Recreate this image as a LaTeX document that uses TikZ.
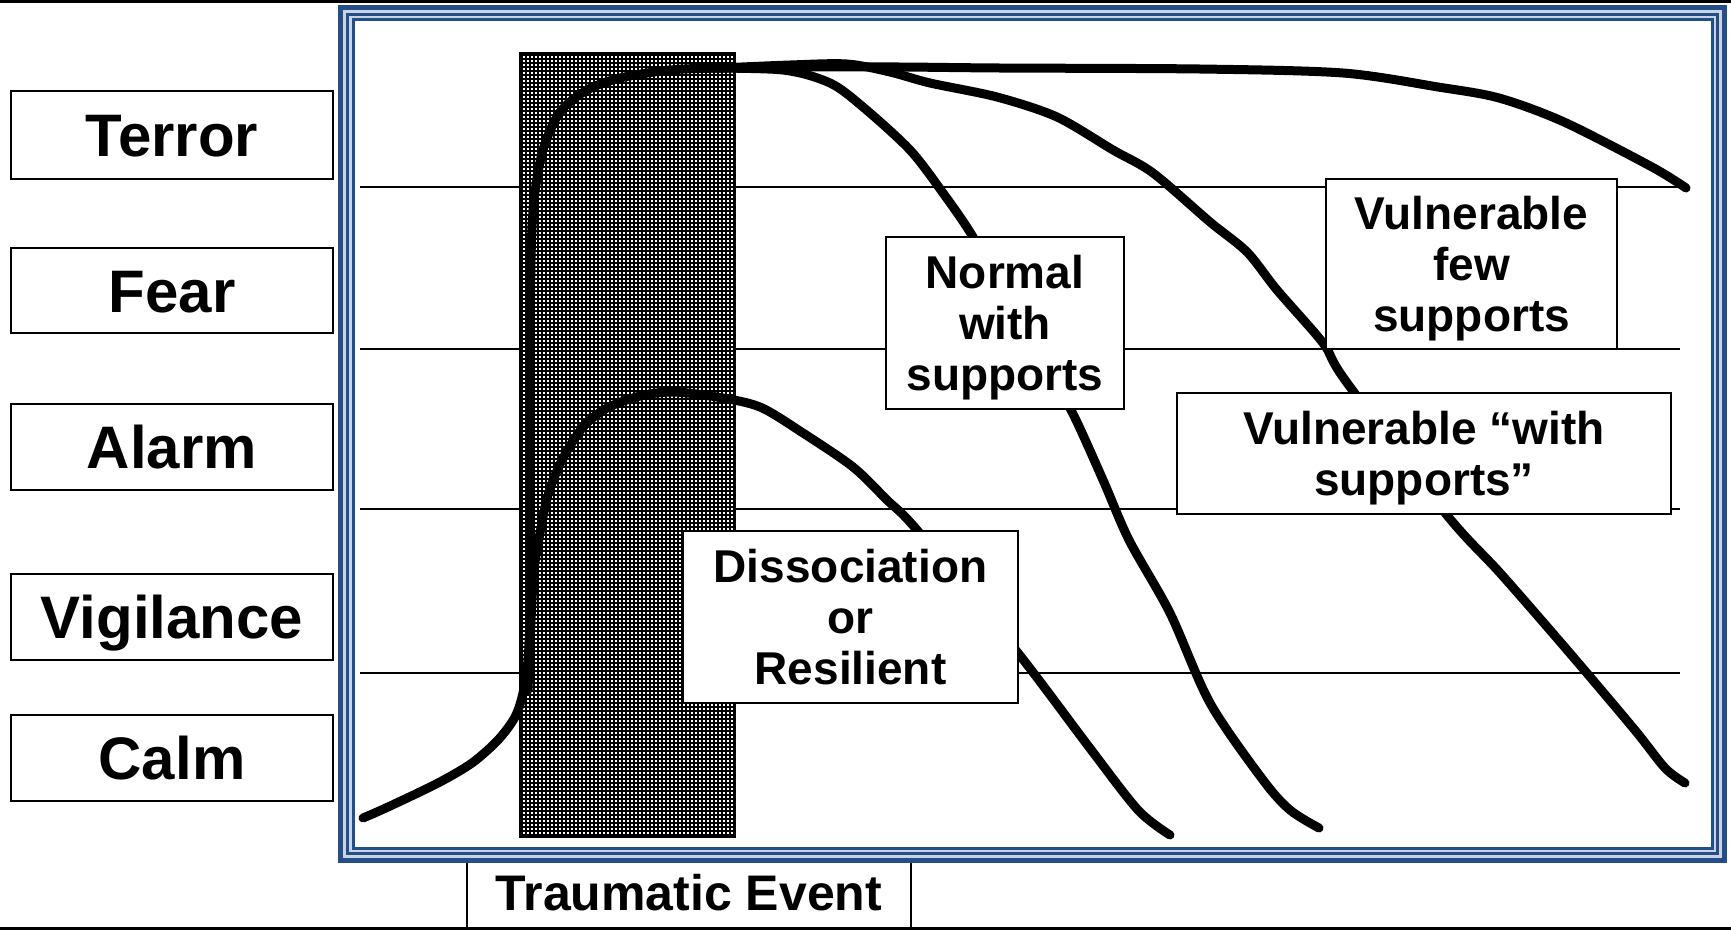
\documentclass[tikz,border=0pt]{standalone}
\usepackage{fontspec}
\setmainfont{Liberation Sans}
\definecolor{frameblue}{RGB}{37,77,135}
\definecolor{framegap}{RGB}{200,212,228}
\newcommand{\lowerstrut}{\rule{0pt}{43pt}}
\begin{document}
\begin{tikzpicture}[x=1pt,y=-1pt,
  curve/.style={line width=9pt, line cap=round, line join=round},
  gridline/.style={line width=2pt},
  hatchline/.style={line width=1.1pt},
  lvl/.style={draw, line width=2pt, fill=white, minimum width=322pt, minimum height=86pt, inner sep=0pt,
              text height=43pt, text depth=0pt, font=\fontsize{60}{66}\selectfont\bfseries},
  lbl/.style={draw, line width=2pt, fill=white, inner sep=0pt, align=center, font=\fontsize{46}{51}\selectfont\bfseries},
  framestroke/.style={draw=frameblue},
]
\useasboundingbox (0,0) rectangle (1731,930);
\fill[white] (0,0) rectangle (1731,930);

% level grid lines
\foreach \y in {187,349,509,673} \draw[gridline] (360,\y) -- (1680,\y);

% traumatic event hatched band
\fill[white] (520,53) rectangle (735,837);
\begin{scope}
  \clip (520,53) rectangle (735,837);
  \foreach \x in {522,526,...,734} \draw[hatchline] (\x,53) -- (\x,837);
  \foreach \y in {55,59,...,836} \draw[hatchline] (520,\y) -- (735,\y);
\end{scope}
\draw[line width=2pt] (520,53) rectangle (735,837);

% rising curve + vulnerable few supports
\draw[curve] plot[smooth, tension=0.5] coordinates {
  (363,818) (388,807) (438,783) (472,763) (498,740) (515,717) (523,693)
  (528,660) (530,600) (530,400) (531,260) (534,200) (543,150) (560,112)
  (587,90) (620,78) (670,70) (720,68) (800,67) (900,67) (1000,68)
  (1200,69) (1343,73) (1438,87) (1499,98) (1564,122) (1652,167) (1686,188)};

% vulnerable with supports
\draw[curve] plot[smooth, tension=0.5] coordinates {
  (720,68) (790,65) (847,64) (890,72) (930,83) (997,97) (1057,117)
  (1113,150) (1153,173) (1210,222) (1247,252) (1277,290) (1323,343)
  (1345,380) (1446,514) (1501,574) (1568,651) (1634,729) (1665,768) (1685,783)};

% normal with supports
\draw[curve] plot[smooth, tension=0.5] coordinates {
  (700,68) (783,70) (830,83) (863,107) (910,150) (943,193) (973,237)
  (1000,290) (1040,360) (1071,410) (1103,480) (1129,540) (1170,613)
  (1210,703) (1263,780) (1290,810) (1319,828)};

% dissociation or resilient
\draw[curve] plot[smooth, tension=0.5] coordinates {
  (528,690) (531,620) (534,570) (540,533) (548,495) (562,460) (583,427)
  (607,408) (640,396) (673,392) (717,397) (760,407) (803,433) (853,467)
  (887,500) (917,530) (1018,653) (1089,747) (1138,810) (1170,835)};

% curve labels
\node[lbl, minimum width=238pt, minimum height=172pt] (normal) at (1005,323) {\lowerstrut Normal\\with\\supports};
\node[lbl, minimum width=335pt, minimum height=172pt] (dissoc) at (850.5,617) {Dissociation\\or\\Resilient};
\node[lbl, minimum width=291pt, minimum height=170pt] (vfew) at (1471.5,264) {\lowerstrut Vulnerable\\few\\supports};
\node[lbl, minimum width=494pt, minimum height=121pt] (vwith) at (1424,453.5) {\lowerstrut Vulnerable “with\\supports”};

% traumatic event box
\node[draw, line width=2pt, fill=white, minimum width=444pt, minimum height=70pt, inner sep=0pt,
      font=\fontsize{50}{55}\selectfont\bfseries] (event) at (689,893) {Traumatic Event};

% frame
\draw[draw=framegap, line width=15pt] (345.5,12.5) rectangle (1719.5,855.5);
\draw[framestroke, line width=5pt] (340.5,7.5) rectangle (1724.5,860.5);
\draw[framestroke, line width=3pt] (347.5,14.5) rectangle (1717.5,853.5);
\draw[framestroke, line width=3pt] (353.5,19.5) rectangle (1712.5,848.5);

% level labels
\node[lvl, minimum height=88pt] (terror) at (172,135) {Terror};
\node[lvl, minimum height=85pt] (fear) at (172,290.5) {Fear};
\node[lvl] (alarm) at (172,447) {Alarm};
\node[lvl] (vigil) at (172,617) {Vigilance};
\node[lvl] (calm) at (172,758) {Calm};

% top and bottom rules
\draw[line width=3pt] (0,1.5) -- (1731,1.5);
\draw[line width=3pt] (0,928) -- (1731,928);
\end{tikzpicture}
\end{document}
